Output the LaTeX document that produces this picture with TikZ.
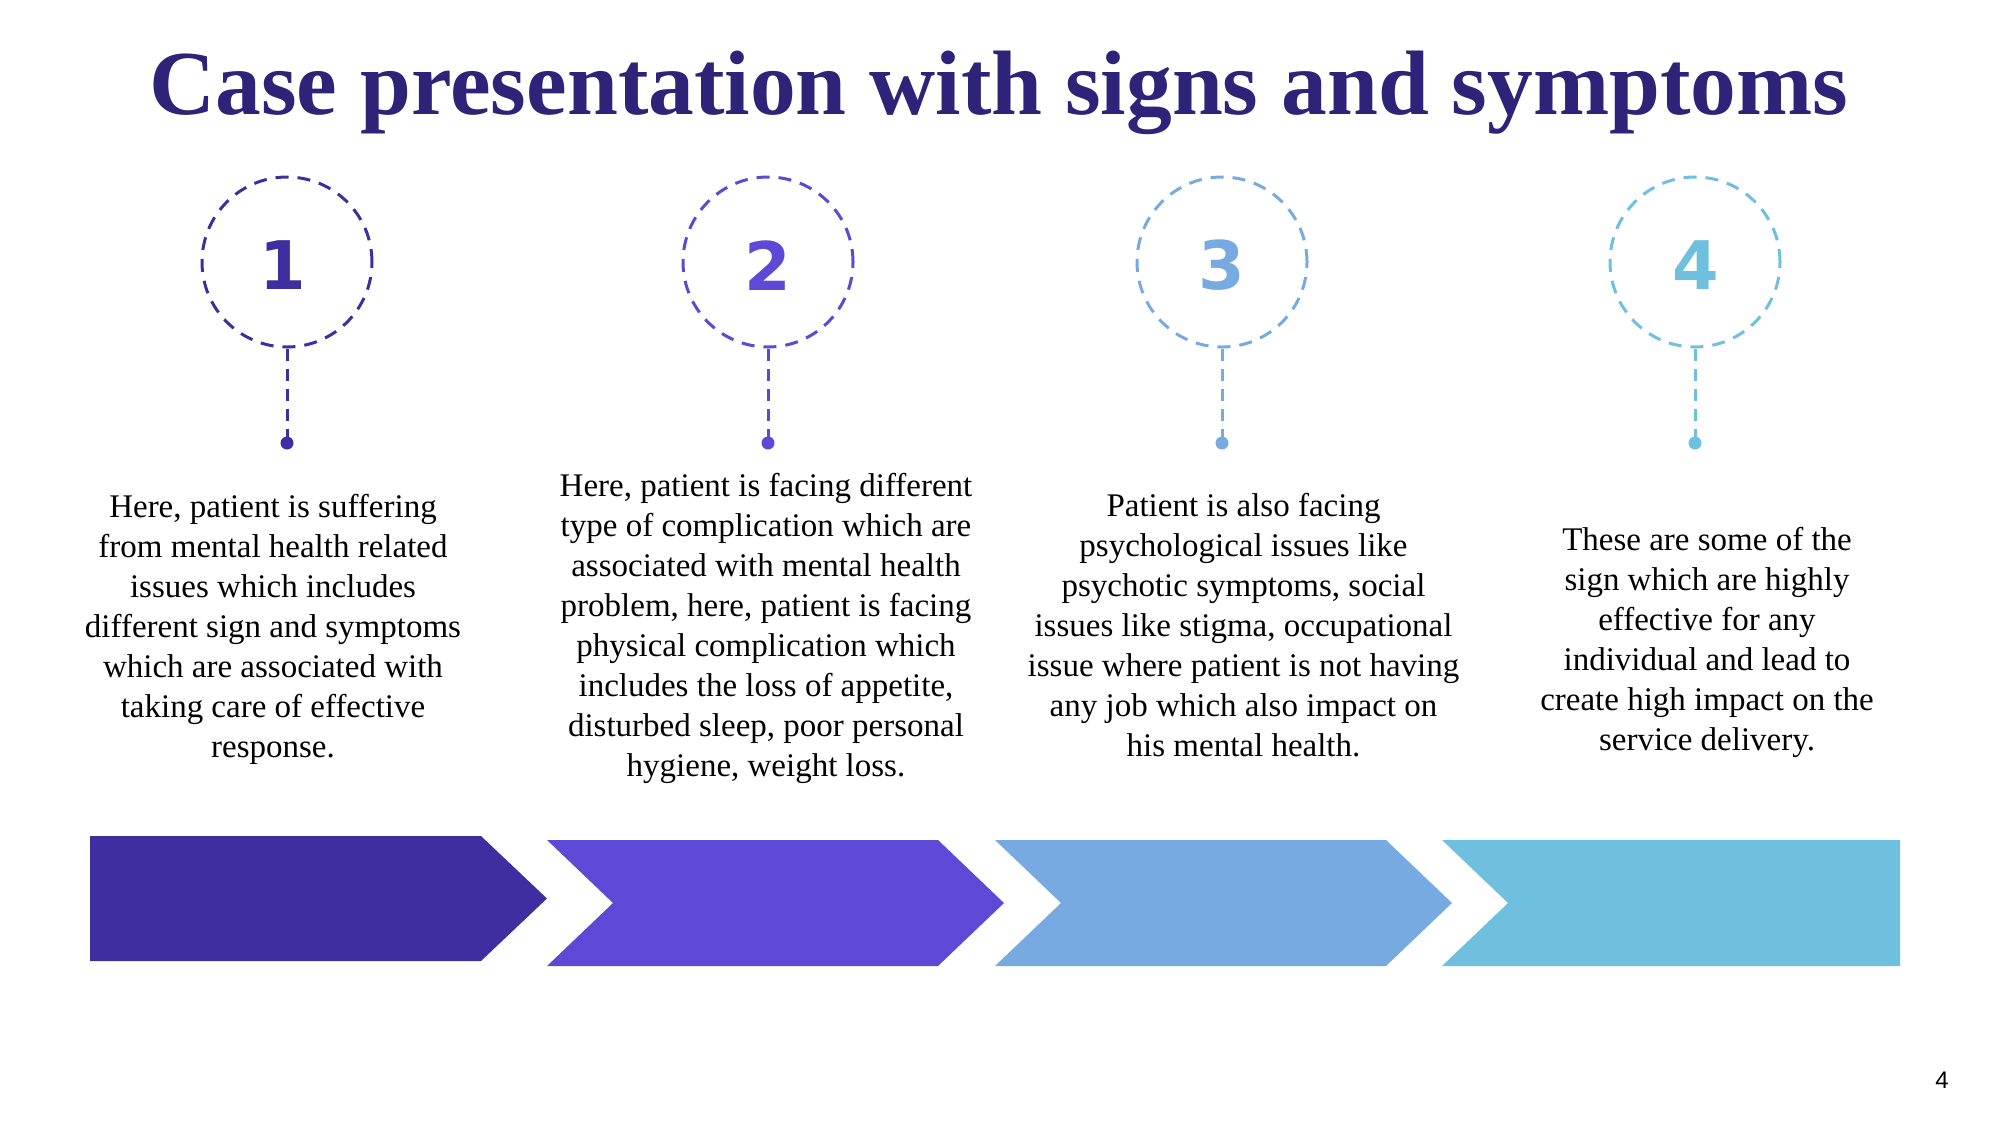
\documentclass[tikz,border=0pt]{standalone}
\usepackage{fontspec}
\setmainfont{Liberation Serif}
\newfontfamily\numfont{DejaVu Sans}
\newfontfamily\pagefont{Liberation Sans}
\definecolor{titlecol}{RGB}{46,35,120}
\definecolor{cA}{RGB}{63,46,160}
\definecolor{cB}{RGB}{94,72,214}
\definecolor{cC}{RGB}{120,170,226}
\definecolor{cD}{RGB}{111,192,222}
\begin{document}
\begin{tikzpicture}[x=1pt,y=-1pt,
  ring/.style={circle,draw=#1,line width=3pt,dash pattern=on 13pt off 9pt,
    minimum size=170pt,inner sep=0pt},
  numtext/.style={text=#1,inner sep=0pt,font=\numfont\bfseries\fontsize{67}{67}\selectfont},
  dotnode/.style={circle,fill=#1,minimum size=13pt,inner sep=0pt},
  stem/.style={draw=#1,line width=3pt,dash pattern=on 12pt off 8pt},
  bodytext/.style={align=center,inner sep=0pt,font=\fontsize{33}{40}\selectfont},
  chev/.style={fill=#1,draw=none}]
\useasboundingbox (0,0) rectangle (2001,1125);
% title
\node[anchor=base,inner sep=0pt,text=titlecol,font=\bfseries\fontsize{91.5}{110}\selectfont] (title) at (999,114) {Case presentation with signs and symptoms};
% circles
\node[ring=cA] (c1) at (287,262) {};
\node[ring=cB] (c2) at (768,262) {};
\node[ring=cC] (c3) at (1222,262) {};
\node[ring=cD] (c4) at (1695,262) {};
% numbers
\node[numtext=cA] (n1) at (282.5,265.5) {1};
\node[numtext=cB] (n2) at (768,265.5) {2};
\node[numtext=cC] (n3) at (1221.5,265.5) {3};
\node[numtext=cD] (n4) at (1695.5,265.5) {4};
% dots
\node[dotnode=cA] (d1) at (287,443) {};
\node[dotnode=cB] (d2) at (768,443) {};
\node[dotnode=cC] (d3) at (1222,443) {};
\node[dotnode=cD] (d4) at (1695,443) {};
% stems
\draw[stem=cA] (c1.south) -- (d1.center);
\draw[stem=cB] (c2.south) -- (d2.center);
\draw[stem=cC] (c3.south) -- (d3.center);
\draw[stem=cD] (c4.south) -- (d4.center);
% texts
\node[bodytext] (t1) at (273,629) {Here, patient is suffering\\from mental health related\\issues which includes\\different sign and symptoms\\which are associated with\\taking care of effective\\response.};
\node[bodytext] (t2) at (766,628) {Here, patient is facing different\\type of complication which are\\associated with mental health\\problem, here, patient is facing\\physical complication which\\includes the loss of appetite,\\disturbed sleep, poor personal\\hygiene, weight loss.};
\node[bodytext] (t3) at (1243.5,625.5) {Patient is also facing\\psychological issues like\\psychotic symptoms, social\\issues like stigma, occupational\\issue where patient is not having\\any job which also impact on\\his mental health.};
\node[bodytext] (t4) at (1707,642) {These are some of the\\sign which are highly\\effective for any\\individual and lead to\\create high impact on the\\service delivery.};
% chevrons
\fill[chev=cA] (90,836) -- (481,836) -- (547,898.5) -- (481,961) -- (90,961) -- cycle;
\fill[chev=cB] (547,840) -- (938,840) -- (1004,903) -- (938,966) -- (547,966) -- (613,903) -- cycle;
\fill[chev=cC] (995,840) -- (1386,840) -- (1452,903) -- (1386,966) -- (995,966) -- (1061,903) -- cycle;
\fill[chev=cD] (1442,840) -- (1900,840) -- (1900,966) -- (1442,966) -- (1508,903) -- cycle;
% page number
\node[inner sep=0pt,font=\pagefont\fontsize{24}{24}\selectfont] (pg) at (1942,1080) {4};
\end{tikzpicture}
\end{document}
